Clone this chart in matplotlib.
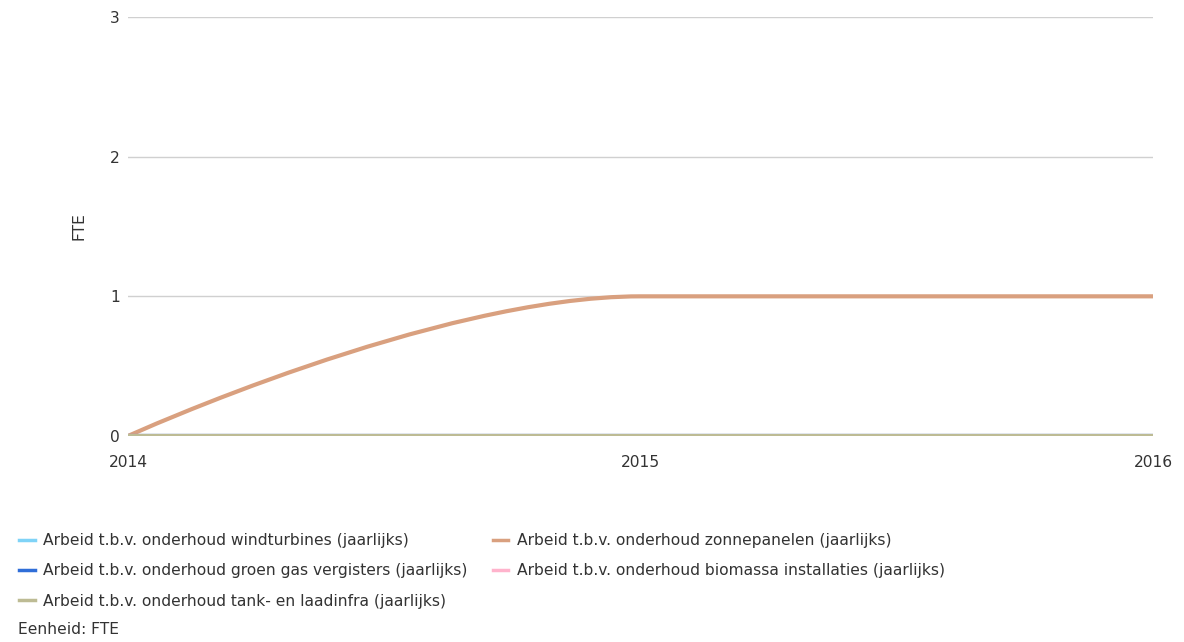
import matplotlib.pyplot as plt
from matplotlib.path import Path
from matplotlib.patches import PathPatch
from matplotlib.lines import Line2D

years = [2014, 2015, 2016]

wind = [0, 0, 0]
zon = [0, 1, 1]
groengas = [0, 0, 0]
biomassa = [0, 0, 0]
tank = [0, 0, 0]

labels = [
    "Arbeid t.b.v. onderhoud windturbines (jaarlijks)",
    "Arbeid t.b.v. onderhoud zonnepanelen (jaarlijks)",
    "Arbeid t.b.v. onderhoud groen gas vergisters (jaarlijks)",
    "Arbeid t.b.v. onderhoud biomassa installaties (jaarlijks)",
    "Arbeid t.b.v. onderhoud tank- en laadinfra (jaarlijks)",
]
colors = ["#7fd3f7", "#d9a07f", "#2f6ed8", "#ffb3cc", "#bdbb94"]
series = [wind, zon, groengas, biomassa, tank]


def spline_path(xs, ys, smoothing=1.5):
    # highcharts-style spline control points
    n = len(xs)
    lc = [None] * n
    rc = [None] * n
    for i in range(1, n - 1):
        px, py = xs[i], ys[i]
        lx, ly = xs[i - 1], ys[i - 1]
        nx, ny = xs[i + 1], ys[i + 1]
        d = smoothing + 1
        lcx = (smoothing * px + lx) / d
        lcy = (smoothing * py + ly) / d
        rcx = (smoothing * px + nx) / d
        rcy = (smoothing * py + ny) / d
        corr = 0
        if rcx != lcx:
            corr = (rcy - lcy) * (rcx - px) / (rcx - lcx) + py - rcy
        lcy += corr
        rcy += corr
        if lcy > max(ly, py):
            lcy = max(ly, py)
            rcy = 2 * py - lcy
        elif lcy < min(ly, py):
            lcy = min(ly, py)
            rcy = 2 * py - lcy
        if rcy > max(py, ny):
            rcy = max(py, ny)
            lcy = 2 * py - rcy
        elif rcy < min(py, ny):
            rcy = min(py, ny)
            lcy = 2 * py - rcy
        lc[i] = (lcx, lcy)
        rc[i] = (rcx, rcy)
    verts = [(xs[0], ys[0])]
    codes = [Path.MOVETO]
    for i in range(1, n):
        c1 = rc[i - 1] if rc[i - 1] else (xs[i - 1], ys[i - 1])
        c2 = lc[i] if lc[i] else (xs[i], ys[i])
        verts += [c1, c2, (xs[i], ys[i])]
        codes += [Path.CURVE4] * 3
    return Path(verts, codes)


fs = 11.2
txt = "#333333"

fig = plt.figure(figsize=(11.84, 6.42), dpi=100)
ax = fig.add_axes([128 / 1184, 1 - 436 / 642, (1153 - 128) / 1184, (436 - 17) / 642])

for y in [1, 2, 3]:
    ax.axhline(y, color="#d0d0d0", lw=1, zorder=1)

for s, c in zip(series, colors):
    ax.add_patch(PathPatch(spline_path(years, s), facecolor="none", edgecolor=c,
                           lw=3, capstyle="round", zorder=3))

ax.set_xlim(2014, 2016)
ax.set_ylim(0, 3)
ax.set_yticks([0, 1, 2, 3])
ax.set_xticks(years)
ax.set_xticklabels([str(y) for y in years])
for sp in ax.spines.values():
    sp.set_visible(False)
ax.tick_params(length=0, labelsize=fs, labelcolor=txt)
ax.tick_params(axis="y", pad=6)
ax.tick_params(axis="x", pad=14)
ax.set_ylabel("FTE", fontsize=fs, color=txt, labelpad=17)

order = [0, 2, 4, 1, 3]
handles = [Line2D([], [], color=colors[i], lw=2.5) for i in order]
leg = fig.legend(handles, [labels[i] for i in order], ncol=2, loc="upper left",
                 bbox_to_anchor=(13 / 1184, 1 - 527 / 642), frameon=False,
                 fontsize=fs, handlelength=1.0, handletextpad=0.55,
                 columnspacing=1.6, labelspacing=0.98, borderaxespad=0)
for t in leg.get_texts():
    t.set_color(txt)

fig.text(18 / 1184, 1 - 630 / 642, "Eenheid: FTE", fontsize=fs, color=txt, va="center")

fig.savefig("out.png", dpi=100)
